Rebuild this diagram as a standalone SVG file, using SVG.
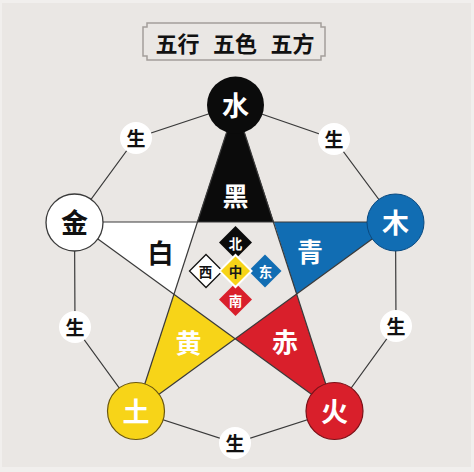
<svg xmlns="http://www.w3.org/2000/svg" width="474" height="472" viewBox="0 0 474 472">
<style>
.cjk{font-family:"Noto Sans CJK SC","Noto Sans CJK JP",sans-serif;text-anchor:middle;dominant-baseline:central}
.big{font-size:27px;font-weight:700}
.mid{font-size:26px;font-weight:700}
.sheng{font-size:19px;font-weight:700;fill:#111}
.dia{font-size:13.5px;font-weight:700}
.ttl{font-size:22px;font-weight:700;fill:#111}
.edge{stroke:#3a3a3a;stroke-width:1.2;fill:none}
.sc{fill:#ffffff}
</style>
<rect x="0" y="0" width="474" height="472" fill="#f1efed"/>
<rect x="2" y="3" width="469" height="464" fill="#eae7e4"/>

<g id="title">
<path d="M147,23 H321 V27 H325 V56 H321 V60 H147 V56 H143 V27 H147 Z" fill="none" stroke="#a49f9a" stroke-width="1.5"/>
<text class="cjk ttl" x="177.5" y="42">五行</text>
<text class="cjk ttl" x="235" y="42">五色</text>
<text class="cjk ttl" x="292.5" y="42">五方</text>
</g>

<g id="star">
<polygon points="235.5,105 197.1,222 273.9,222" fill="#0b0b0b"/>
<polygon points="395.5,222 273.9,222 296.6,294" fill="#116db3"/>
<polygon points="334.5,411 296.6,294 235.2,338.8" fill="#d91f2b"/>
<polygon points="136,411 235.2,338.8 173.9,294.3" fill="#f7d418"/>
<polygon points="74.5,222 173.9,294.3 197.1,222" fill="#ffffff"/>
</g>

<g id="connectors">
<polyline class="edge" points="235.5,105 136,138 74.5,222 75,327 136,411 235,443 334.5,411 396,326 395.5,222 334,139 235.5,105"/>
<line class="edge" x1="235.5" y1="105" x2="136" y2="411"/>
<line class="edge" x1="235.5" y1="105" x2="334.5" y2="411"/>
<line class="edge" x1="74.5" y1="222" x2="395.5" y2="222"/>
<line class="edge" x1="74.5" y1="222" x2="334.5" y2="411"/>
<line class="edge" x1="395.5" y1="222" x2="136" y2="411"/>
</g>

<g id="color-labels">
<text class="cjk mid" x="235.5" y="194" fill="#ffffff">黑</text>
<text class="cjk mid" x="310" y="250" fill="#ffffff">青</text>
<text class="cjk mid" x="160.5" y="251" fill="#111111">白</text>
<text class="cjk mid" x="188.5" y="341" fill="#ffffff">黄</text>
<text class="cjk mid" x="285" y="340" fill="#ffffff">赤</text>
</g>

<g id="directions">
<g id="dir-north"><polygon points="235.5,226 252,242.5 235.5,259 219,242.5" fill="#0b0b0b"/><text class="cjk dia" x="235.5" y="242.5" fill="#fff">北</text></g>
<g id="dir-west"><polygon points="206,254.5 222.5,271 206,287.5 189.5,271" fill="#fff" stroke="#111" stroke-width="1.3"/><text class="cjk dia" x="205.5" y="271" fill="#111">西</text></g>
<g id="dir-east"><polygon points="265,254.5 281.5,271 265,287.5 248.5,271" fill="#116db3"/><text class="cjk dia" x="265.5" y="271" fill="#fff">东</text></g>
<g id="dir-south"><polygon points="235.5,283 252,299.5 235.5,316 219,299.5" fill="#d91f2b"/><text class="cjk dia" x="235.5" y="300" fill="#fff">南</text></g>
<g id="dir-center"><polygon points="235.5,255 251.5,271 235.5,287 219.5,271" fill="#f7d418" stroke="#ffffff" stroke-width="2"/><text class="cjk dia" x="235.5" y="271" fill="#1a1a1a">中</text></g>
</g>

<g id="node-water"><circle cx="235.5" cy="105" r="28.5" fill="#0b0b0b"/><text class="cjk big" x="235.5" y="104" fill="#fff">水</text></g>
<g id="node-wood"><circle cx="395.5" cy="222.5" r="28.5" fill="#116db3" stroke="#0a4a80" stroke-width="1"/><text class="cjk big" x="395.5" y="221.5" fill="#fff">木</text></g>
<g id="node-metal"><circle cx="74.5" cy="222.5" r="28.5" fill="#fff" stroke="#3a3a3a" stroke-width="1.3"/><text class="cjk big" x="74.5" y="221.5" fill="#111">金</text></g>
<g id="node-earth"><circle cx="136" cy="411" r="28.5" fill="#f7d418" stroke="#6a5710" stroke-width="1.2"/><text class="cjk big" x="136" y="410" fill="#fff">土</text></g>
<g id="node-fire"><circle cx="334.5" cy="411" r="28.5" fill="#d91f2b" stroke="#7a1118" stroke-width="1.2"/><text class="cjk big" x="334.5" y="410" fill="#fff">火</text></g>

<g id="sheng-tl"><circle class="sc" cx="136" cy="138" r="16"/><text class="cjk sheng" x="136" y="137.5">生</text></g>
<g id="sheng-tr"><circle class="sc" cx="334" cy="139" r="16"/><text class="cjk sheng" x="334" y="138.5">生</text></g>
<g id="sheng-l"><circle class="sc" cx="75" cy="327" r="16"/><text class="cjk sheng" x="75" y="326.5">生</text></g>
<g id="sheng-r"><circle class="sc" cx="396" cy="326" r="16"/><text class="cjk sheng" x="396" y="325.5">生</text></g>
<g id="sheng-b"><circle class="sc" cx="235" cy="443" r="16"/><text class="cjk sheng" x="235" y="442.5">生</text></g>
</svg>
